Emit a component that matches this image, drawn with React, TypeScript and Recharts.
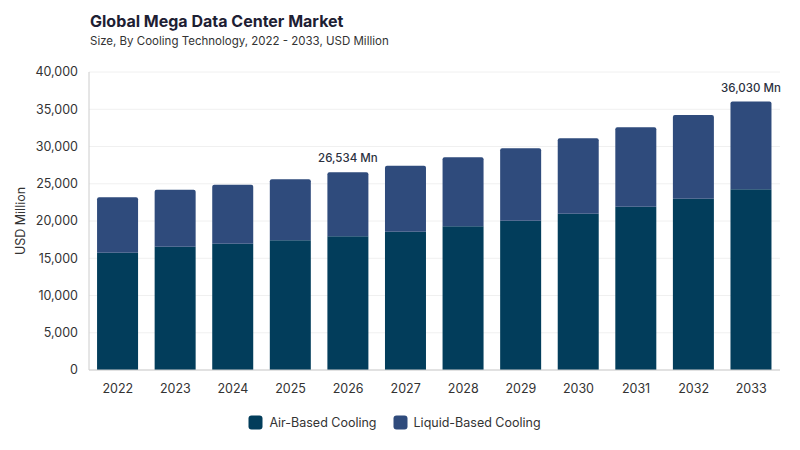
import React from 'react';
import {
  BarChart,
  Bar,
  XAxis,
  YAxis,
  CartesianGrid,
  Legend,
  LabelList
} from 'recharts';

const years = ['2022', '2023', '2024', '2025', '2026', '2027', '2028', '2029', '2030', '2031', '2032', '2033'];
const airCooling = [15750, 16550, 16950, 17400, 17950, 18550, 19280, 20050, 20980, 21920, 23000, 24250];
const liquidCooling = [7430, 7650, 7920, 8190, 8584, 8870, 9270, 9700, 10120, 10650, 11230, 11780];
const yTicks = [0, 5000, 10000, 15000, 20000, 25000, 30000, 35000, 40000];
const labelledYears = ['2026', '2033'];

const AIR = '#023d5b';
const LIQUID = '#2f4b7c';
const FONT = 'Inter, "DejaVu Sans", sans-serif';

const data = years.map((year, i) => ({
  year,
  air: airCooling[i],
  liquid: liquidCooling[i],
  total: airCooling[i] + liquidCooling[i]
}));

const TotalLabel = (props: any) => {
  const { x, y, width, index } = props;
  const row = data[index];
  if (!row || !labelledYears.includes(row.year)) return null;
  return (
    <text
      x={x + width / 2}
      y={y - 10}
      textAnchor="middle"
      fontSize={11.5}
      fontWeight={500}
      fill="#2b3040"
      fontFamily={FONT}
    >
      {`${row.total.toLocaleString('en-US')} Mn`}
    </text>
  );
};

// legend with rounded square swatches
const LegendContent = (props: any) => {
  const { payload = [] } = props;
  return (
    <div style={{ display: 'flex', justifyContent: 'center', gap: 16, fontSize: 12.5, color: '#333', fontFamily: FONT }}>
      {payload.map((entry: any) => (
        <div key={entry.value} style={{ display: 'flex', alignItems: 'center', gap: 6 }}>
          <svg width={15} height={15}>
            <rect x={0.5} y={0.5} width={14} height={14} rx={3} fill={entry.color} />
          </svg>
          <span>{entry.value}</span>
        </div>
      ))}
    </div>
  );
};

export default function App() {
  return (
    <div style={{ position: 'absolute', left: 0, top: 0, width: 800, height: 450, background: '#fff', fontFamily: FONT }}>
      <div style={{ position: 'absolute', left: 90, top: 11, fontSize: 16, fontWeight: 700, color: '#1d2033' }}>
        Global Mega Data Center Market
      </div>
      <div style={{ position: 'absolute', left: 90, top: 34, fontSize: 11.5, color: '#333' }}>
        Size, By Cooling Technology, 2022 - 2033, USD Million
      </div>
      <BarChart
        width={800}
        height={450}
        data={data}
        margin={{ top: 72, right: 20, left: 9, bottom: 10 }}
        barCategoryGap="14%"
      >
        <CartesianGrid vertical={false} stroke="#f0f0f0" />
        <XAxis
          dataKey="year"
          axisLine={{ stroke: '#cccccc' }}
          tickLine={false}
          tickMargin={8}
          tick={{ fontSize: 12.5, fill: '#333', fontFamily: FONT }}
          height={30}
        />
        <YAxis
          width={80}
          domain={[0, 40000]}
          ticks={yTicks}
          axisLine={{ stroke: '#cccccc' }}
          tickLine={false}
          tickMargin={5}
          tick={{ fontSize: 12.5, fill: '#333', fontFamily: FONT }}
          tickFormatter={(v: number) => v.toLocaleString('en-US')}
          label={{
            value: 'USD Million',
            angle: -90,
            position: 'insideLeft',
            offset: 12,
            style: { fontSize: 12.5, fill: '#333', fontFamily: FONT, textAnchor: 'middle' }
          }}
        />
        <Legend
          verticalAlign="bottom"
          height={40}
          content={LegendContent}
          wrapperStyle={{ top: 415, bottom: 'auto' }}
        />
        <Bar
          dataKey="air"
          name="Air-Based Cooling"
          stackId="a"
          fill={AIR}
          isAnimationActive={false}
        />
        <Bar
          dataKey="liquid"
          name="Liquid-Based Cooling"
          stackId="a"
          fill={LIQUID}
          radius={[2, 2, 0, 0]}
          isAnimationActive={false}
        >
          <LabelList dataKey="liquid" content={TotalLabel} />
        </Bar>
      </BarChart>
    </div>
  );
}
